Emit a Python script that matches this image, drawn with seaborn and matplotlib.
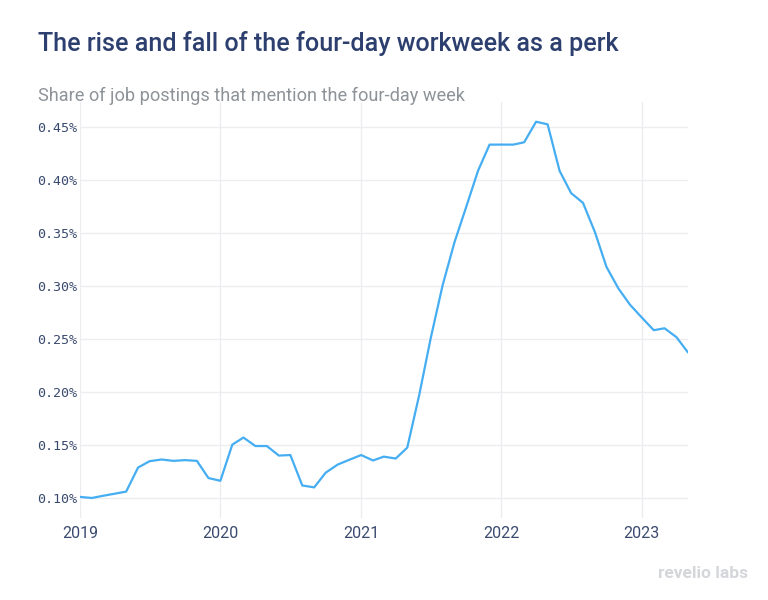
import matplotlib
matplotlib.use("Agg")
import matplotlib.pyplot as plt
import matplotlib.ticker as mticker
import seaborn as sns
import pandas as pd

# Monthly share (%) of job postings mentioning the four-day week, Jan 2019 - May 2023
share_pct = [
    0.101, 0.100, 0.102, 0.104, 0.106, 0.1287, 0.1347, 0.1363, 0.135, 0.1357, 0.135, 0.1188,   # 2019
    0.1162, 0.1503, 0.157, 0.149, 0.149, 0.140, 0.1405, 0.1118, 0.110, 0.1239, 0.1315, 0.136,  # 2020
    0.1405, 0.1354, 0.139, 0.1372, 0.1475, 0.197, 0.2508, 0.3008, 0.3415, 0.3743, 0.4087, 0.4334,  # 2021
    0.4334, 0.4334, 0.4356, 0.455, 0.4525, 0.4087, 0.3877, 0.3784, 0.3508, 0.318, 0.2977, 0.2824,  # 2022
    0.2702, 0.2583, 0.2601, 0.2517, 0.2373,                                                      # 2023
]
months = pd.date_range("2019-01-01", periods=len(share_pct), freq="MS")
year_ticks = ["2019", "2020", "2021", "2022", "2023"]
y_ticks = [0.10, 0.15, 0.20, 0.25, 0.30, 0.35, 0.40, 0.45]

title = "The rise and fall of the four-day workweek as a perk"
subtitle = "Share of job postings that mention the four-day week"

df = pd.DataFrame({"month": months, "share": share_pct})

sns.set_theme(style="white")
plt.rcParams["font.family"] = ["Roboto", "DejaVu Sans"]

fig = plt.figure(figsize=(7.68, 6.0), dpi=100)
ax = fig.add_axes([80 / 768, 1 - 518 / 600, (688 - 80) / 768, (518 - 102) / 600])

sns.lineplot(data=df, x="month", y="share", ax=ax, color="#45aef2", linewidth=1.6)

ax.set_xlim(months[0], months[-1])
ax.set_ylim(0.0811, 0.4736)
ax.set_xticks([pd.Timestamp(y + "-01-01") for y in year_ticks])
ax.set_xticklabels(year_ticks)
ax.set_yticks(y_ticks)
ax.yaxis.set_major_formatter(mticker.FuncFormatter(lambda v, p: f"{v:.2f}%"))

ax.grid(True, color="#ececf1", linewidth=1.0)
ax.set_axisbelow(True)
for s in ax.spines.values():
    s.set_visible(False)
ax.tick_params(axis="both", length=0)
ax.tick_params(axis="x", pad=6, labelsize=11.5, labelcolor="#3a4a6e")
ax.tick_params(axis="y", pad=2, labelsize=9.6, labelcolor="#3a4a6e")
for lab in ax.get_yticklabels():
    lab.set_fontfamily("DejaVu Sans Mono")
ax.set_xlabel("")
ax.set_ylabel("")

fig.text(38 / 768, 1 - 43 / 600, title, fontsize=18.1, fontweight="medium",
         color="#2d3f6e", va="center", ha="left")
fig.text(38 / 768, 1 - 96 / 600, subtitle, fontsize=13.05,
         color="#8d9398", va="center", ha="left")
fig.text(748 / 768, 1 - 573 / 600, "revelio labs", fontsize=12.5, fontweight="bold",
         color="#d4d6da", va="center", ha="right")

fig.savefig("out.png", dpi=100)
